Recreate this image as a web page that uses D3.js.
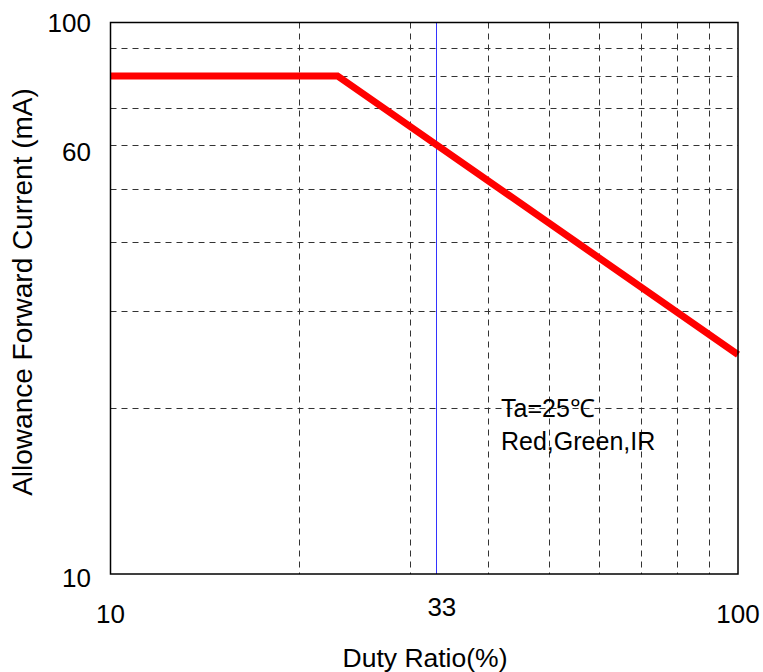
<!DOCTYPE html>
<html><head><meta charset="utf-8">
<script src="https://cdn.jsdelivr.net/npm/d3@7"></script>
<style>body{margin:0;background:#fff}</style>
</head><body>
<svg id="c" width="763" height="672"></svg>
<script>
const xDomain = [10, 100];
const yDomain = [10, 100];
const xGrid = [20, 30, 40, 50, 60, 70, 80, 90];
const yGrid = [20, 30, 40, 50, 60, 70, 80, 90];
const xTickLabels = [10, 33, 100];
const yTickLabels = [10, 60, 100];
const markerDuty = 33;
const curveDuty = [10, 23, 100];
const curveCurrent = [80, 80, 25];
const notes = ["Ta=25\u2103", "Red,Green,IR"];

const svg = d3.select("#c");
const L = 110.5, R = 738, T = 22.5, B = 574;
const x = d3.scaleLog().domain(xDomain).range([L, R]);
const y = d3.scaleLog().domain(yDomain).range([B, T]);
const font = "'Liberation Sans', Arial, sans-serif";

const g = svg.append("g");
g.selectAll(".vg").data(xGrid).join("line")
  .attr("x1", d => Math.round(x(d)) + 0.5).attr("x2", d => Math.round(x(d)) + 0.5)
  .attr("y1", T).attr("y2", B)
  .attr("stroke", "#333").attr("stroke-width", 1).attr("stroke-dasharray", "6,5");
g.selectAll(".hg").data(yGrid).join("line")
  .attr("y1", d => Math.round(y(d)) + 0.5).attr("y2", d => Math.round(y(d)) + 0.5)
  .attr("x1", L).attr("x2", R)
  .attr("stroke", "#333").attr("stroke-width", 1).attr("stroke-dasharray", "6,5");

// blue marker
g.append("line").attr("x1", Math.round(x(markerDuty)) + 0.5).attr("x2", Math.round(x(markerDuty)) + 0.5)
  .attr("y1", T).attr("y2", B).attr("stroke", "#3333ff").attr("stroke-width", 1);

// red curve
const pts = curveDuty.map((d, i) => [d, curveCurrent[i]]);
g.append("path").datum(pts)
  .attr("d", d3.line().x(d => x(d[0])).y(d => y(d[1])))
  .attr("fill", "none").attr("stroke", "#ff0000").attr("stroke-width", 7)
  .attr("stroke-linejoin", "miter");

// frame
svg.append("rect").attr("x", L).attr("y", T).attr("width", R - L).attr("height", B - T)
  .attr("fill", "none").attr("stroke", "#000").attr("stroke-width", 1.5);

// tick labels
const yOff = {10: 4, 60: 7, 100: 0};
svg.selectAll(".yt").data(yTickLabels).join("text")
  .attr("x", 91).attr("y", d => y(d) + yOff[d]).attr("dy", "0.36em")
  .attr("text-anchor", "end").attr("font-family", font).attr("font-size", 26)
  .text(d => d);
svg.selectAll(".xt").data(xTickLabels).join("text")
  .attr("x", d => x(d) + (d === 33 ? 6 : 0)).attr("y", d => d === 33 ? 607 : 614).attr("dy", "0.36em")
  .attr("text-anchor", "middle").attr("font-family", font).attr("font-size", 26)
  .text(d => d);

// axis titles
svg.append("text").attr("x", 425).attr("y", 657).attr("dy", "0.36em")
  .attr("text-anchor", "middle").attr("font-family", font).attr("font-size", 26.5)
  .text("Duty Ratio(%)");
svg.append("text").attr("transform", "translate(22,292) rotate(-90)").attr("dy", "0.36em")
  .attr("text-anchor", "middle").attr("font-family", font).attr("font-size", 28)
  .text("Allowance Forward Current (mA)");

// annotation
svg.selectAll(".note").data(notes).join("text")
  .attr("x", 501).attr("y", (d, i) => 408 + i * 33).attr("dy", "0.36em")
  .attr("font-family", font).attr("font-size", 25).text(d => d);
</script>
</body></html>
